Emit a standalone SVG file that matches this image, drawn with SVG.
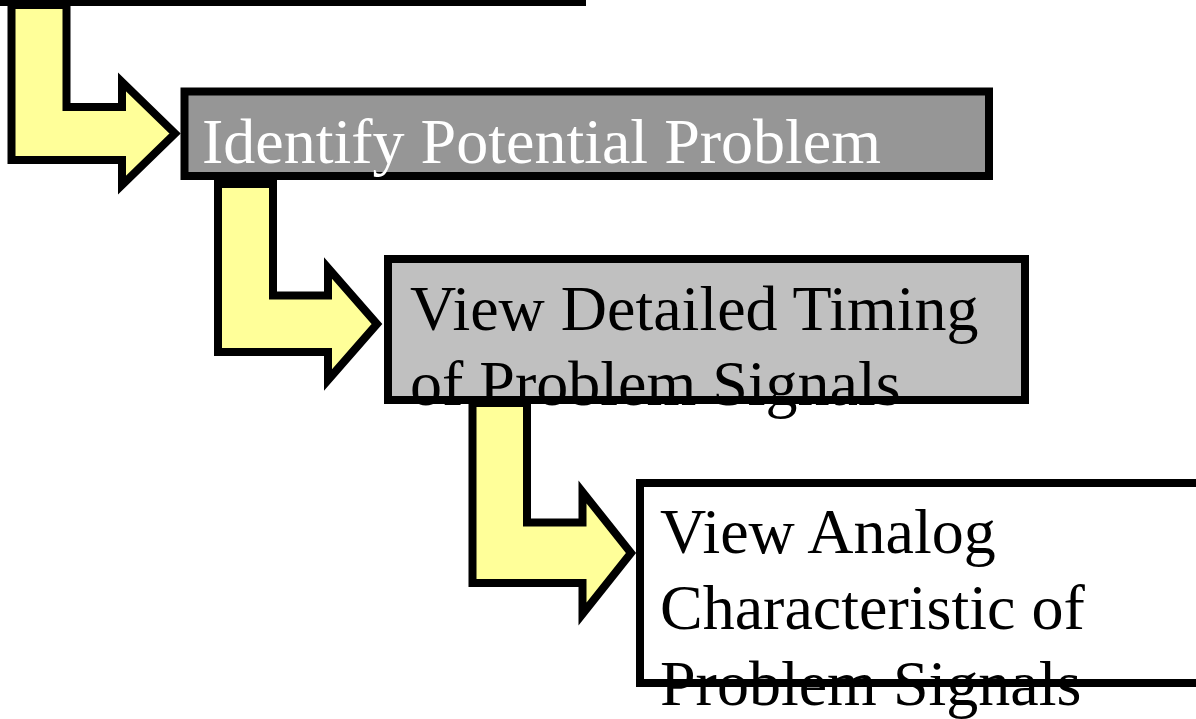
<svg xmlns="http://www.w3.org/2000/svg" width="1196" height="719" viewBox="0 0 1196 719">
<style>
.arrow{fill:#FFFF99;stroke:#000;stroke-width:8;stroke-linejoin:miter;stroke-miterlimit:10}
.box{stroke:#000;stroke-width:8}
</style>
<rect width="1196" height="719" fill="#fff"/>
<g id="node-top">
<rect x="-10" y="-20" width="596" height="26" fill="#000"/>
</g>
<g id="connectors">
<path class="arrow" d="M11.5,5 L66.5,5 L66.5,107 L122,107 L122,82 L175,133.5 L122,185 L122,160 L11.5,160 Z"/>
<path class="arrow" d="M218,184 L273,184 L273,295.5 L328,295.5 L328,268 L377,324 L328,380 L328,352 L218,352 Z"/>
<path class="arrow" d="M472.5,403 L527,403 L527,522.5 L582.5,522.5 L582.5,492 L631,553 L582.5,614 L582.5,583 L472.5,583 Z"/>
</g>
<g font-family="Liberation Serif, Times New Roman, Times, serif" font-size="64">
<g id="node-identify">
<rect class="box" x="184.5" y="91.5" width="804.5" height="84.5" fill="#969696"/>
<text x="202" y="163" fill="#fff">Identify Potential Problem</text>
</g>
<g id="node-timing">
<rect class="box" x="388" y="259" width="637" height="141" fill="#C0C0C0"/>
<text x="410" y="330" fill="#000">View Detailed Timing</text>
<text x="410" y="405" fill="#000">of Problem Signals</text>
</g>
<g id="node-analog">
<rect class="box" x="640" y="483" width="600" height="200" fill="#fff"/>
<text x="660" y="553" fill="#000">View Analog</text>
<text x="660" y="629" fill="#000">Characteristic of</text>
<text x="660" y="705" fill="#000">Problem Signals</text>
</g>
</g>
</svg>
